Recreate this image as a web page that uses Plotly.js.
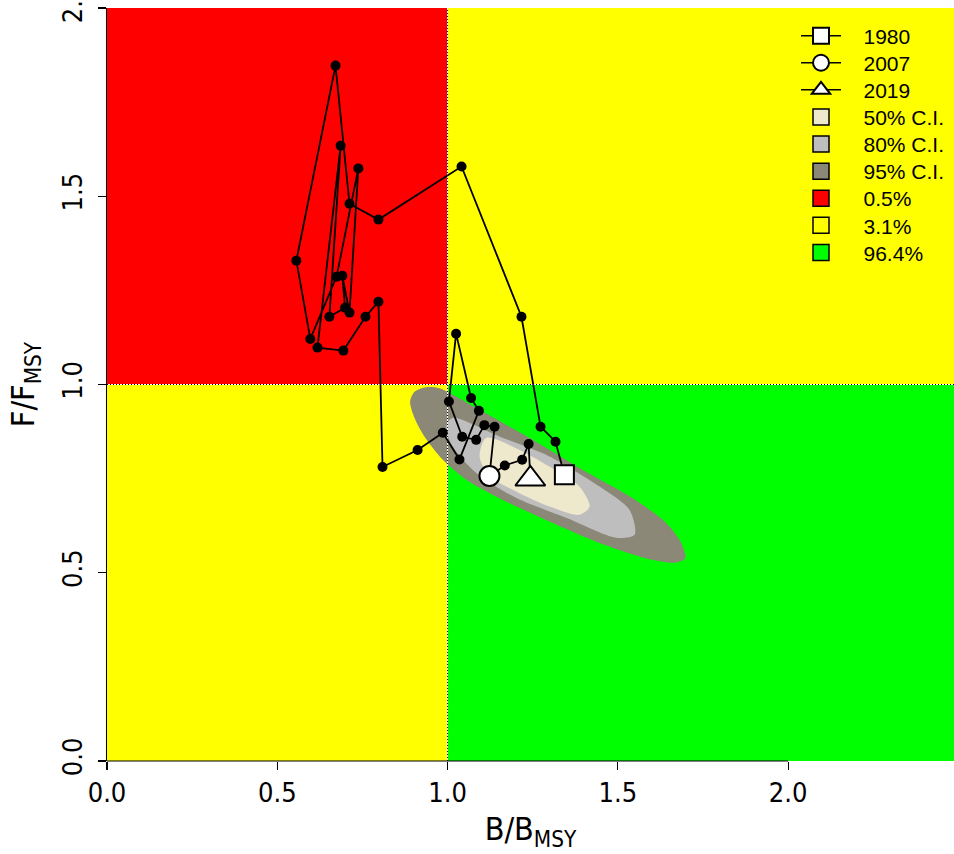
<!DOCTYPE html>
<html><head><meta charset="utf-8">
<script src="https://cdn.plot.ly/plotly-3.0.1.min.js"></script>
<style>html,body{margin:0;padding:0;background:#fff}</style>
</head><body><div id="chart" style="width:954px;height:854px"></div>
<script>
// Trajectory of B/BMSY and F/FMSY (1980 ... 2019)
const trajB = [1.343,1.317,1.273,1.217,1.041,0.797,0.712,0.671,0.556,0.597,0.674,0.738,0.712,0.691,0.699,0.653,0.686,0.618,0.694,0.759,0.797,0.809,0.912,0.986,1.035,1.092,1.069,1.025,1.004,1.043,1.084,1.108,1.138,1.123,1.168,1.219,1.238,1.243];
const trajF = [0.760,0.848,0.888,1.180,1.579,1.438,1.480,1.847,1.329,1.121,1.286,1.574,1.191,1.289,1.204,1.180,1.634,1.098,1.090,1.180,1.220,0.781,0.826,0.872,0.801,0.930,0.964,1.135,0.955,0.861,0.853,0.892,0.888,0.757,0.785,0.800,0.842,0.749];

// Highlighted years
const yearLabels = ['1980','2007','2019'];
const yearB = [1.343, 1.123, 1.243];
const yearF = [0.760, 0.757, 0.749];

// Confidence regions (outlines)
const ci95B = [0.890,0.903,0.937,0.976,1.015,1.103,1.250,1.397,1.544,1.642,1.686,1.698,1.671,1.593,1.446,1.299,1.152,1.055,0.986,0.932,0.903];
const ci95F = [0.955,0.981,0.993,0.990,0.973,0.928,0.853,0.773,0.698,0.632,0.579,0.539,0.527,0.536,0.579,0.636,0.698,0.747,0.800,0.862,0.911];
const ci80B = [0.996,1.014,1.152,1.299,1.446,1.534,1.549,1.495,1.348,1.201,1.084,1.015];
const ci80F = [0.888,0.911,0.862,0.809,0.729,0.667,0.601,0.593,0.646,0.699,0.765,0.835];
const ci50B = [1.094,1.113,1.201,1.299,1.387,1.417,1.387,1.299,1.201,1.123];
const ci50F = [0.809,0.858,0.831,0.782,0.729,0.676,0.654,0.676,0.716,0.756];

// Legend labels
const ciLabels = ['50% C.I.','80% C.I.','95% C.I.'];
const quadLabels = ['0.5%','3.1%','96.4%'];

// Axis ticks
const tickVals = [0,0.5,1,1.5,2];
const xTickText = ['0.0','0.5','1.0','1.5','2.0'];
const yTickText = ['0.0','0.5','1.0','1.5','2.0'];

const refB = 1, refF = 1;
const xMax = 2.487, yMax = 2;

const ciColors = ['#EEE8CD','#BEBEBE','#8B8878'];
const quadColors = ['#FF0000','#FFFF00','#00FF00'];
const FONT = 'Liberation Sans, Arial, sans-serif';
const NARROW = 'Liberation Sans Narrow, Arial Narrow, DejaVu Sans Condensed, sans-serif';
const PAD = '\u00a0\u00a0\u00a0';

// legend placement (pixels of the 954x854 page)
const PLOT_TOP = 8, PLOT_BOTTOM = 761, PLOT_LEFT = 107, PLOT_W = 847;
const LEG_X = 796, LEG_ROW0 = 36, LEG_STEP = 27.1;
const legName = i => i === 0 ? 'legend' : 'legend' + (i + 1);

const traces = [];
[[ci95B,ci95F,ciColors[2]],[ci80B,ci80F,ciColors[1]],[ci50B,ci50F,ciColors[0]]].forEach(([xs,ys,c])=>{
  traces.push({x:xs.concat([xs[0]]), y:ys.concat([ys[0]]), type:'scatter', mode:'lines', fill:'toself',
    fillcolor:c, line:{width:0, color:c, shape:'spline', smoothing:0.8}, showlegend:false, hoverinfo:'skip'});
});
// reference lines (dotted)
[[ [refB,refB],[0,yMax] ], [ [0,xMax],[refF,refF] ]].forEach(([xs,ys])=>{
  traces.push({x:xs,y:ys,type:'scatter',mode:'lines',line:{color:'#FFFFFF',width:1},showlegend:false,hoverinfo:'skip'});
  traces.push({x:xs,y:ys,type:'scatter',mode:'lines',line:{color:'#000000',width:1,dash:'1px,2px'},showlegend:false,hoverinfo:'skip'});
});
// trajectory
traces.push({x:trajB,y:trajF,type:'scatter',mode:'lines+markers',line:{color:'#000',width:1.8},
  marker:{symbol:'circle',size:10,color:'#000'},showlegend:false,hoverinfo:'skip'});
// year markers
const yearSymbols = ['square','circle','triangle-up'];
const yearSizes = [19,20,26];
let row = 0;
yearLabels.forEach((lab,i)=>{
  traces.push({x:[yearB[i]],y:[yearF[i]],type:'scatter',mode:'lines+markers',name:PAD+lab,legend:legName(row++),
    line:{color:'#000',width:1.5},
    marker:{symbol:yearSymbols[i],size:yearSizes[i],color:'#FFFFFF',line:{color:'#000',width:2}},hoverinfo:'skip'});
});
ciLabels.forEach((lab,i)=>{
  traces.push({x:[null],y:[null],type:'scatter',mode:'markers',name:PAD+lab,legend:legName(row++),
    marker:{symbol:'square',size:16,color:ciColors[i],line:{color:'#000',width:1.5}}});
});
quadLabels.forEach((lab,i)=>{
  traces.push({x:[null],y:[null],type:'scatter',mode:'markers',name:PAD+lab,legend:legName(row++),
    marker:{symbol:'square',size:18,color:quadColors[i],line:{color:'#000',width:1.5}}});
});

const shapes = [
  {type:'rect',xref:'x',yref:'y',x0:0,x1:refB,y0:refF,y1:yMax,fillcolor:quadColors[0],line:{width:0},layer:'below'},
  {type:'rect',xref:'x',yref:'y',x0:0,x1:refB,y0:0,y1:refF,fillcolor:quadColors[1],line:{width:0},layer:'below'},
  {type:'rect',xref:'x',yref:'y',x0:refB,x1:xMax,y0:refF,y1:yMax,fillcolor:quadColors[1],line:{width:0},layer:'below'},
  {type:'rect',xref:'x',yref:'y',x0:refB,x1:xMax,y0:0,y1:refF,fillcolor:quadColors[2],line:{width:0},layer:'below'},
  {type:'line',xref:'x',yref:'paper',x0:0,x1:2,y0:0,y1:0,line:{color:'#000',width:1.2}}
];

const layout = {
  width:954, height:854,
  margin:{l:PLOT_LEFT,r:0,t:PLOT_TOP,b:854-PLOT_BOTTOM},
  paper_bgcolor:'#fff', plot_bgcolor:'#fff',
  font:{family:FONT,size:21,color:'#000'},
  hovermode:false,
  xaxis:{range:[0,xMax],tickvals:tickVals,ticktext:xTickText,ticks:'outside',ticklen:8,tickwidth:1.2,tickcolor:'#000',
    showgrid:false,zeroline:false,showline:false,fixedrange:true,
    tickfont:{family:NARROW,size:27},
    title:{text:'B/B<sub>MSY</sub>',font:{family:NARROW,size:32},standoff:10}},
  yaxis:{range:[0,yMax],tickvals:tickVals,ticktext:yTickText,ticks:'outside',ticklen:8,tickwidth:1.2,tickcolor:'#000',
    showgrid:false,zeroline:false,showline:true,linecolor:'#000',linewidth:1.2,fixedrange:true,
    tickangle:-90,ticklabelstandoff:5,ticklabeloverflow:'allow',
    tickfont:{family:NARROW,size:27},
    title:{text:'F/F<sub>MSY</sub>',font:{family:NARROW,size:32},standoff:12}},
  shapes:shapes,
  showlegend:true
};
for (let i = 0; i < row; i++) {
  const cy = LEG_ROW0 + LEG_STEP * i;
  layout[legName(i)] = {
    x:(LEG_X - PLOT_LEFT) / PLOT_W, y:(PLOT_BOTTOM - cy) / (PLOT_BOTTOM - PLOT_TOP),
    xanchor:'left', yanchor:'middle', bgcolor:'rgba(0,0,0,0)', borderwidth:0,
    font:{family:FONT,size:21,color:'#000'}, itemwidth:40
  };
}

Plotly.newPlot('chart',traces,layout,{staticPlot:true,displayModeBar:false});
</script></body></html>
